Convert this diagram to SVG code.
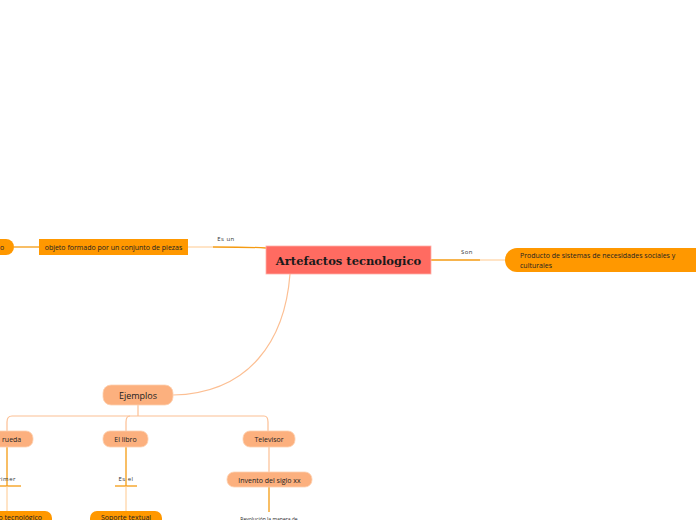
<svg xmlns="http://www.w3.org/2000/svg" width="696" height="520" viewBox="0 0 696 520">
<style>
.t{font-family:"Open Sans","Liberation Sans",sans-serif;fill:#222}
.s{font-size:7px}
.lbl{font-family:"Open Sans","Liberation Sans",sans-serif;font-size:6px;fill:#333;letter-spacing:0.5px}
.c{fill:none;stroke:#f59b12;stroke-width:1.3}
.cl{fill:none;stroke:#ffc98e;stroke-width:1}
.cp{fill:none;stroke:#fcbf93;stroke-width:1.2}
.org{fill:#ff9800}
.pch{fill:#fcb07e;stroke:#fdd0b0;stroke-width:0.8}
</style>
<rect width="696" height="520" fill="#ffffff"/>
<g id="connectors">
  <path class="c" d="M266,248 C250,247 240,247 213,247"/>
  <path class="cl" d="M213,247 L188,247"/>
  <path class="c" d="M39,247 L14,247"/>
  <path class="c" d="M431,260 L480,260"/>
  <path class="cl" d="M480,260 L505,260"/>
  <path class="cp" d="M290,274 C285,340 250,393 173,395"/>
  <path class="cp" d="M138,405 L138,416"/>
  <path class="cp" d="M12,416 L264,416 Q268,416 268,422 L268,431"/>
  <path class="cp" d="M12,416 Q7,416 7,422 L7,431"/>
  <path class="cp" d="M130,416 Q126,416 126,422 L126,431"/>
  <path class="c" d="M7,447 L7,486"/>
  <path class="c" d="M-2,486 L21,486"/>
  <path class="cl" d="M7,486 L7,511"/>
  <path class="c" d="M126,447 L126,486"/>
  <path class="c" d="M115,486 L137,486"/>
  <path class="cl" d="M126,486 L126,511"/>
  <path class="cp" d="M269,447 L269,472"/>
  <path class="c" d="M269,487 L269,512"/>
</g>
<g id="central">
  <rect x="266" y="246" width="165" height="28" fill="#ff6b61" stroke="#ffb0a8" stroke-width="0.8"/>
  <text x="348.5" y="264.5" text-anchor="middle" font-family="'DejaVu Serif','Liberation Serif',serif" font-weight="bold" font-size="11.5" fill="#1a1a1a">Artefactos tecnologico</text>
</g>
<g id="lbl-esun"><text class="lbl" x="226" y="241" text-anchor="middle">Es un</text></g>
<g id="lbl-son"><text class="lbl" x="467" y="254" text-anchor="middle">Son</text></g>
<g id="objeto">
  <rect class="org" x="39" y="239" width="149" height="16"/>
  <text class="t s" x="113.5" y="249.5" text-anchor="middle">objeto formado por un conjunto de piezas</text>
</g>
<g id="left-cut">
  <path class="org" d="M-10,239 L6,239 A8,8 0 0 1 14,247 A8,8 0 0 1 6,255 L-10,255 Z"/>
  <text class="t s" x="0" y="249.5">o</text>
</g>
<g id="producto">
  <path class="org" d="M517,248 L700,248 L700,272 L517,272 A12,12 0 0 1 505,260 A12,12 0 0 1 517,248 Z"/>
  <text class="t s" x="520" y="258">Producto de sistemas de necesidades sociales y</text>
  <text class="t s" x="520" y="268">culturales</text>
</g>
<g id="ejemplos">
  <rect class="pch" x="103" y="385" width="70" height="20" rx="8"/>
  <text class="t" x="138" y="398.5" font-size="9" text-anchor="middle">Ejemplos</text>
</g>
<g id="rueda">
  <rect class="pch" x="-20" y="431" width="53" height="16" rx="7"/>
  <text class="t s" x="2" y="441.5">rueda</text>
</g>
<g id="libro">
  <rect class="pch" x="103" y="431" width="45" height="16" rx="7"/>
  <text class="t s" x="125.5" y="441.5" text-anchor="middle">El libro</text>
</g>
<g id="televisor">
  <rect class="pch" x="243" y="431" width="52" height="16" rx="7"/>
  <text class="t s" x="269" y="441.5" text-anchor="middle">Televisor</text>
</g>
<g id="lbl-primer"><text class="lbl" x="16" y="481" text-anchor="end">Primer</text></g>
<g id="lbl-esel"><text class="lbl" x="126" y="481" text-anchor="middle">Es el</text></g>
<g id="invento">
  <rect class="pch" x="227" y="472" width="85" height="15" rx="7"/>
  <text class="t s" x="269.5" y="482.5" text-anchor="middle">Invento del siglo xx</text>
</g>
<g id="tecnologico">
  <rect class="org" x="-30" y="511" width="82" height="20" rx="7"/>
  <text class="t s" x="42" y="520" text-anchor="end">Primer artefacto tecnológico</text>
</g>
<g id="soporte">
  <rect class="org" x="90" y="511" width="72" height="20" rx="7"/>
  <text class="t s" x="126" y="520" text-anchor="middle">Soporte textual</text>
</g>
<g id="revolucion">
  <text class="t" x="269" y="521" font-size="5" text-anchor="middle">Revolución la manera de</text>
</g>
</svg>
